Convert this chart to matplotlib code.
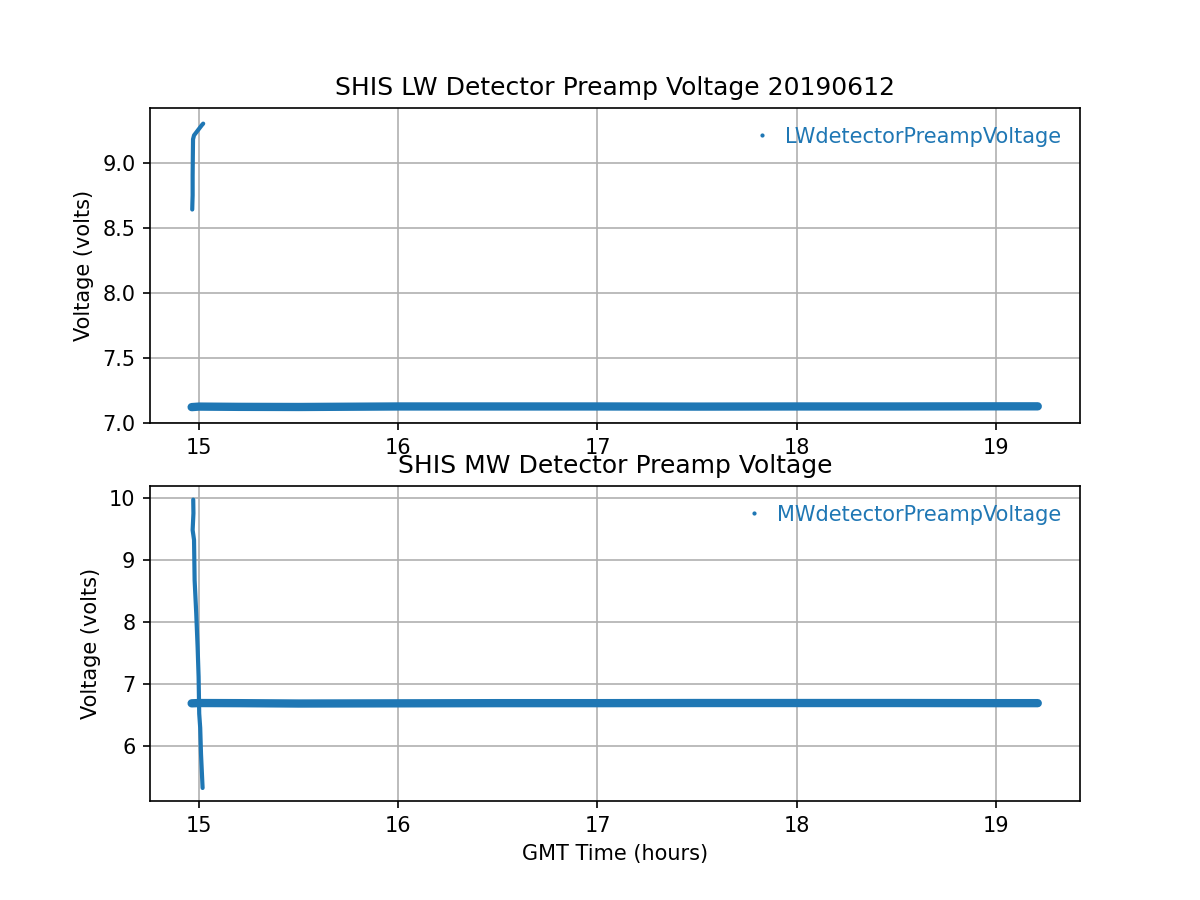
import matplotlib
matplotlib.use("Agg")
import matplotlib.pyplot as plt
import numpy as np

# GMT hours / volts
lw_spike_t = [14.966, 14.967, 14.968, 14.968, 14.969, 14.970, 14.975, 14.985, 14.995, 15.005, 15.015, 15.021]
lw_spike_v = [8.64, 8.70, 8.75, 8.90, 9.05, 9.18, 9.21, 9.23, 9.25, 9.27, 9.29, 9.30]

lw_flat_t = [14.963, 15.0, 15.2, 15.5, 16.0, 16.5, 17.0, 17.5, 18.0, 18.5, 19.0, 19.21]
lw_flat_v = [7.122, 7.126, 7.124, 7.123, 7.127, 7.127, 7.127, 7.126, 7.127, 7.127, 7.128, 7.128]

mw_spike_t = [14.971, 14.972, 14.968, 14.975, 14.978, 14.986, 14.993, 14.998, 15.001, 15.006, 15.010, 15.018]
mw_spike_v = [9.97, 9.75, 9.48, 9.32, 8.67, 8.14, 7.59, 7.11, 6.52, 6.29, 5.87, 5.32]

mw_flat_t = [14.963, 15.0, 15.2, 15.5, 16.0, 16.5, 17.0, 17.5, 18.0, 18.5, 19.0, 19.21]
mw_flat_v = [6.685, 6.690, 6.688, 6.682, 6.685, 6.688, 6.688, 6.690, 6.690, 6.690, 6.688, 6.688]

blue = "#1f77b4"

fig, (ax1, ax2) = plt.subplots(2, 1, figsize=(8, 6), dpi=150)

# top panel
ax1.plot(lw_flat_t, lw_flat_v, color=blue, lw=4.0, solid_capstyle="round")
ax1.plot(lw_spike_t, lw_spike_v, color=blue, lw=2.0, solid_capstyle="round")
ax1.plot([], [], ".", color=blue, ms=2, label="LWdetectorPreampVoltage")
ax1.set_title("SHIS LW Detector Preamp Voltage 20190612")
ax1.set_ylabel("Voltage (volts)")
ax1.set_xlim(14.754, 19.422)
ax1.set_ylim(7.0, 9.42)
ax1.grid(True)
ax1.legend(loc="upper right", frameon=False, labelcolor="linecolor", handlelength=0.6)

# bottom panel
ax2.plot(mw_flat_t, mw_flat_v, color=blue, lw=4.0, solid_capstyle="round")
ax2.plot(mw_spike_t, mw_spike_v, color=blue, lw=2.0, solid_capstyle="round")
ax2.plot([], [], ".", color=blue, ms=2, label="MWdetectorPreampVoltage")
ax2.set_title("SHIS MW Detector Preamp Voltage")
ax2.set_ylabel("Voltage (volts)")
ax2.set_xlabel("GMT Time (hours)")
ax2.set_xlim(14.754, 19.422)
ax2.set_ylim(5.11, 10.19)
ax2.grid(True)
ax2.legend(loc="upper right", frameon=False, labelcolor="linecolor", handlelength=0.6)

fig.savefig("out.png", dpi=150)
